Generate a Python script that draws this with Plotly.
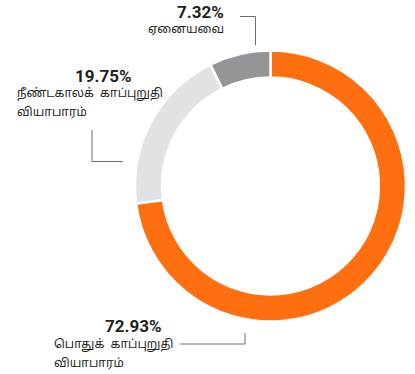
import plotly.graph_objects as go

# Portfolio share by business line
categories = ["பொதுக் காப்புறுதி வியாபாரம்", "நீண்டகாலக் காப்புறுதி வியாபாரம்", "ஏனையவை"]
shares = [72.93, 19.75, 7.32]
colors = ["#FF6F10", "#E1E2E3", "#939598"]

W, H = 415, 374


def px(x):
    return x / W


def py(y):
    return 1 - y / H


fig = go.Figure(go.Pie(
    labels=categories,
    values=shares,
    sort=False,
    direction="clockwise",
    rotation=0,
    hole=0.80,
    marker=dict(colors=colors, line=dict(color="white", width=2.5)),
    textinfo="none",
    hoverinfo="label+percent",
    showlegend=False,
    domain=dict(x=[px(135), px(406)], y=[py(321.5), py(50.5)]),
))

num_font = dict(family="Roboto, Arial, sans-serif", size=17, color="#231F20")
lab_font = dict(family="Noto Sans Tamil, Latha, sans-serif", size=12, color="#231F20")

annotations = [
    # ஏனையவை
    dict(x=px(226), y=py(12), text=f"<b>{shares[2]:.2f}%</b>", xanchor="right", font=num_font),
    dict(x=px(226), y=py(30), text="ஏனையவை", xanchor="right", font=lab_font),
    # நீண்டகாலக் காப்புறுதி வியாபாரம்
    dict(x=px(134), y=py(76), text=f"<b>{shares[1]:.2f}%</b>", xanchor="right", font=num_font),
    dict(x=px(15), y=py(94), text="நீண்டகாலக்  காப்புறுதி", xanchor="left", font=lab_font),
    dict(x=px(15), y=py(113), text="வியாபாரம்", xanchor="left", font=lab_font),
    # பொதுக் காப்புறுதி வியாபாரம்
    dict(x=px(164), y=py(326), text=f"<b>{shares[0]:.2f}%</b>", xanchor="right", font=num_font),
    dict(x=px(52), y=py(345), text="பொதுக்  காப்புறுதி", xanchor="left", font=lab_font),
    dict(x=px(52), y=py(364), text="வியாபாரம்", xanchor="left", font=lab_font),
]
for a in annotations:
    a.update(xref="paper", yref="paper", yanchor="middle", showarrow=False)

leader = dict(color="#6D6E71", width=1)
shapes = [
    dict(type="path", path=f"M {px(240)},{py(16.5)} L {px(255.5)},{py(16.5)} L {px(255.5)},{py(45)}"),
    dict(type="path", path=f"M {px(92)},{py(130)} L {px(92)},{py(161.5)} L {px(123)},{py(161.5)}"),
    dict(type="path", path=f"M {px(180)},{py(344)} L {px(245)},{py(344)} L {px(245)},{py(333)}"),
]
for s in shapes:
    s.update(xref="paper", yref="paper", line=leader)

fig.update_layout(
    width=W, height=H,
    margin=dict(l=0, r=0, t=0, b=0),
    paper_bgcolor="white",
    plot_bgcolor="white",
    annotations=annotations,
    shapes=shapes,
)

fig.write_html("out.html")
